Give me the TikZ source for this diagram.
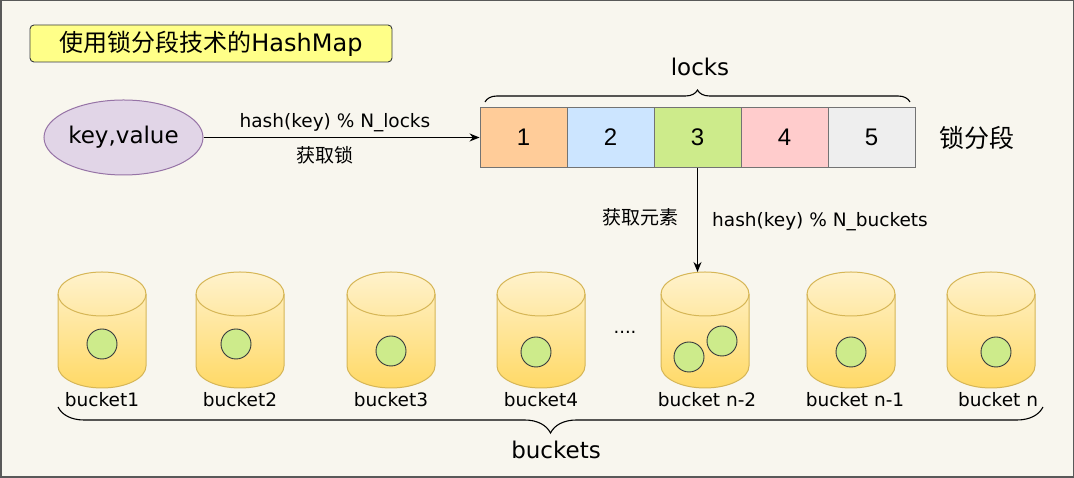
\documentclass[tikz,border=0pt]{standalone}
\usepackage{fontspec}
\setmainfont{DejaVu Sans}
\newfontfamily\cjk{Noto Sans CJK SC}
\newfontfamily\digitfont{Liberation Sans}
\usetikzlibrary{shapes.geometric,decorations.pathreplacing,arrows.meta}

\definecolor{bgcream}{HTML}{F8F6EE}
\definecolor{titlefill}{HTML}{FFFF88}
\definecolor{darkline}{HTML}{36393D}
\definecolor{kvfill}{HTML}{E1D5E7}
\definecolor{kvline}{HTML}{9673A6}
\definecolor{lockA}{HTML}{FFCC99}
\definecolor{lockB}{HTML}{CCE5FF}
\definecolor{lockC}{HTML}{CDEB8B}
\definecolor{lockD}{HTML}{FFCCCC}
\definecolor{lockE}{HTML}{EEEEEE}
\definecolor{cyltop}{HTML}{FFF2CC}
\definecolor{cylbot}{HTML}{FFD966}
\definecolor{cylline}{HTML}{D6B656}

\newcommand{\fs}[1]{\fontsize{#1}{#1}\selectfont}

\begin{document}
\begin{tikzpicture}[x=1pt, y=1pt,
    lock/.style={draw=black!55, line width=0.9pt, minimum width=87pt, minimum height=60pt,
                 inner sep=0pt, font=\digitfont\fs{24}},
    elem/.style={circle, draw=darkline, fill=lockC, line width=0.9pt,
                 minimum size=30pt, inner sep=0pt},
    lbl/.style={font=\fs{18.5}, inner sep=1pt},
    cjklbl/.style={font=\cjk\fs{19}, inner sep=1pt},
    arr/.style={-{Stealth[length=10pt,width=8pt]}, line width=1.2pt, black},
    bracket/.style={decorate, decoration={brace, amplitude=#1}, line width=1.1pt}]

	\useasboundingbox (0,0) rectangle (1074,478);
	\fill[bgcream] (0,0) rectangle (1074,478);
	\draw[black!65, line width=1.5pt] (0.75,0.75) rectangle (1073.25,477.25);

	% title
	\node[draw=darkline, fill=titlefill, rounded corners=4pt, line width=0.9pt,
	      minimum width=362pt, minimum height=37pt, inner sep=0pt]
	      (title) at (211, 434.5) {\cjk\fs{24}使用锁分段技术的\fontspec{DejaVu Sans}HashMap};

	\node[ellipse, draw=kvline, fill=kvfill, line width=1pt, minimum width=159pt,
	      minimum height=75pt, inner sep=0pt, font=\fs{23}] (kv) at (123.5, 340.5) {key,value};

	% lock segments
	\node[lock, fill=lockA] (l1) at (523.5, 340.5) {1};
	\node[lock, fill=lockB] (l2) at (610.5, 340.5) {2};
	\node[lock, fill=lockC] (l3) at (697.5, 340.5) {3};
	\node[lock, fill=lockD] (l4) at (784.5, 340.5) {4};
	\node[lock, fill=lockE] (l5) at (871.5, 340.5) {5};
	\node[font=\cjk\fs{25}] (seg) at (977, 340.5) {锁分段};

	\coordinate (lkL) at (485, 376);
	\coordinate (lkR) at (910, 376);
	\draw[bracket=12pt] (lkL) -- (lkR);
	\node[font=\fs{23}] (locks) at (700, 411) {locks};

	% buckets
	\foreach \x/\i in {102/1, 240/2, 391/3, 541/4, 705/5, 851/6, 991/7} {
		\shade[top color=cyltop, bottom color=cylbot, draw=cylline, line width=1pt]
			(\x-44, 184) -- (\x-44, 112)
			arc[start angle=180, end angle=360, x radius=44, y radius=22]
			-- (\x+44, 184)
			arc[start angle=0, end angle=180, x radius=44, y radius=22] -- cycle;
		\draw[cylline, line width=1pt] (\x-44, 184)
			arc[start angle=180, end angle=360, x radius=44, y radius=22];
		\coordinate (b\i) at (\x, 206);
	}

	\node[lbl] (lb1) at (102, 78) {bucket1};
	\node[lbl] (lb2) at (240, 78) {bucket2};
	\node[lbl] (lb3) at (391, 78) {bucket3};
	\node[lbl] (lb4) at (541, 78) {bucket4};
	\node[lbl] (lb5) at (707, 78) {bucket n-2};
	\node[lbl] (lb6) at (855, 78) {bucket n-1};
	\node[lbl] (lb7) at (998, 78) {bucket n};

	\node[elem] (e1) at (102, 134) {};
	\node[elem] (e2) at (236, 134) {};
	\node[elem] (e3) at (391, 127) {};
	\node[elem] (e4) at (536, 126) {};
	\node[elem] (e5) at (689, 121) {};
	\node[elem] (e6) at (722, 137) {};
	\node[elem] (e7) at (851, 126) {};
	\node[elem] (e8) at (996, 126) {};

	\node[font=\fs{18}] (dots) at (625, 146) {....};

	\coordinate (bkL) at (58, 71);
	\coordinate (bkR) at (1043, 71);
	\draw[bracket=26pt] (bkR) -- (bkL);
	\node[font=\fs{23}] (buckets) at (556, 28) {buckets};

	% arrows
	\path[arr] (kv) edge (l1);
	\node[lbl] at (335, 355) {hash(key) \% N\_locks};
	\node[cjklbl] at (325, 323) {获取锁};

	\coordinate (hit) at (l3.south |- b5);
	\path[arr] (l3.south) edge (hit);
	\node[cjklbl] at (640, 261) {获取元素};
	\node[lbl] at (820, 256) {hash(key) \% N\_buckets};

\end{tikzpicture}
\end{document}
